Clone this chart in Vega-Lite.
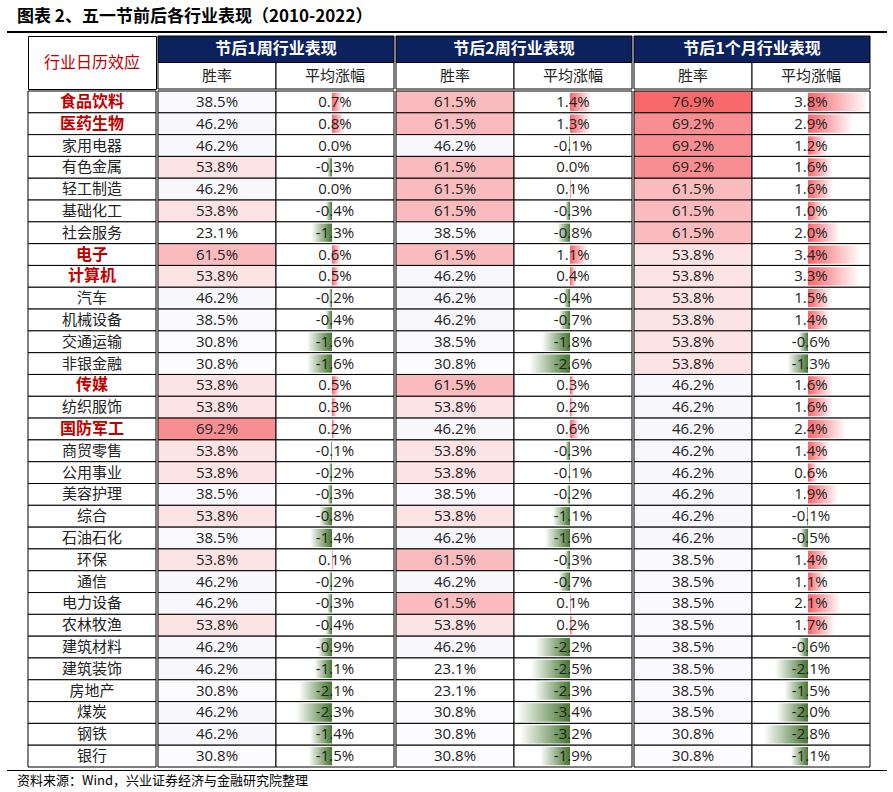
{
  "$schema": "https://vega.github.io/schema/vega-lite/v6.json",
  "padding": {"left": 7, "right": 0, "top": 8, "bottom": 0},
  "background": "#ffffff",
  "title": {"text": "图表 2、五一节前后各行业表现（2010-2022）", "anchor": "start", "frame": "bounds", "font": "Noto Sans CJK SC", "fontSize": 17, "fontWeight": "bold", "color": "#000000", "dx": 10, "offset": 5},
  "config": {"view": {"stroke": null}, "concat": {"spacing": 0}},
  "datasets": {
    "t": [
      {"n": "食品饮料", "e": 1, "w1": 38.5, "a1": 0.7, "w2": 61.5, "a2": 1.4, "wm": 76.9, "am": 3.8},
      {"n": "医药生物", "e": 1, "w1": 46.2, "a1": 0.8, "w2": 61.5, "a2": 1.3, "wm": 69.2, "am": 2.9},
      {"n": "家用电器", "e": 0, "w1": 46.2, "a1": 0.0, "w2": 46.2, "a2": -0.1, "wm": 69.2, "am": 1.2},
      {"n": "有色金属", "e": 0, "w1": 53.8, "a1": -0.3, "w2": 61.5, "a2": 0.0, "wm": 69.2, "am": 1.6},
      {"n": "轻工制造", "e": 0, "w1": 46.2, "a1": 0.0, "w2": 61.5, "a2": 0.1, "wm": 61.5, "am": 1.6},
      {"n": "基础化工", "e": 0, "w1": 53.8, "a1": -0.4, "w2": 61.5, "a2": -0.3, "wm": 61.5, "am": 1.0},
      {"n": "社会服务", "e": 0, "w1": 23.1, "a1": -1.3, "w2": 38.5, "a2": -0.8, "wm": 61.5, "am": 2.0},
      {"n": "电子", "e": 1, "w1": 61.5, "a1": 0.6, "w2": 61.5, "a2": 1.1, "wm": 53.8, "am": 3.4},
      {"n": "计算机", "e": 1, "w1": 53.8, "a1": 0.5, "w2": 46.2, "a2": 0.4, "wm": 53.8, "am": 3.3},
      {"n": "汽车", "e": 0, "w1": 46.2, "a1": -0.2, "w2": 46.2, "a2": -0.4, "wm": 53.8, "am": 1.5},
      {"n": "机械设备", "e": 0, "w1": 38.5, "a1": -0.4, "w2": 46.2, "a2": -0.7, "wm": 53.8, "am": 1.4},
      {"n": "交通运输", "e": 0, "w1": 30.8, "a1": -1.6, "w2": 38.5, "a2": -1.8, "wm": 53.8, "am": -0.6},
      {"n": "非银金融", "e": 0, "w1": 30.8, "a1": -1.6, "w2": 30.8, "a2": -2.6, "wm": 53.8, "am": -1.3},
      {"n": "传媒", "e": 1, "w1": 53.8, "a1": 0.5, "w2": 61.5, "a2": 0.3, "wm": 46.2, "am": 1.6},
      {"n": "纺织服饰", "e": 0, "w1": 53.8, "a1": 0.3, "w2": 53.8, "a2": 0.2, "wm": 46.2, "am": 1.6},
      {"n": "国防军工", "e": 1, "w1": 69.2, "a1": 0.2, "w2": 46.2, "a2": 0.6, "wm": 46.2, "am": 2.4},
      {"n": "商贸零售", "e": 0, "w1": 53.8, "a1": -0.1, "w2": 53.8, "a2": -0.3, "wm": 46.2, "am": 1.4},
      {"n": "公用事业", "e": 0, "w1": 53.8, "a1": -0.2, "w2": 53.8, "a2": -0.1, "wm": 46.2, "am": 0.6},
      {"n": "美容护理", "e": 0, "w1": 38.5, "a1": -0.3, "w2": 38.5, "a2": -0.2, "wm": 46.2, "am": 1.9},
      {"n": "综合", "e": 0, "w1": 53.8, "a1": -0.8, "w2": 53.8, "a2": -1.1, "wm": 46.2, "am": -0.1},
      {"n": "石油石化", "e": 0, "w1": 38.5, "a1": -1.4, "w2": 46.2, "a2": -1.6, "wm": 46.2, "am": -0.5},
      {"n": "环保", "e": 0, "w1": 53.8, "a1": 0.1, "w2": 61.5, "a2": -0.3, "wm": 38.5, "am": 1.4},
      {"n": "通信", "e": 0, "w1": 46.2, "a1": -0.2, "w2": 46.2, "a2": -0.7, "wm": 38.5, "am": 1.1},
      {"n": "电力设备", "e": 0, "w1": 46.2, "a1": -0.3, "w2": 61.5, "a2": 0.1, "wm": 38.5, "am": 2.1},
      {"n": "农林牧渔", "e": 0, "w1": 53.8, "a1": -0.4, "w2": 53.8, "a2": 0.2, "wm": 38.5, "am": 1.7},
      {"n": "建筑材料", "e": 0, "w1": 46.2, "a1": -0.9, "w2": 46.2, "a2": -2.2, "wm": 38.5, "am": -0.6},
      {"n": "建筑装饰", "e": 0, "w1": 46.2, "a1": -1.1, "w2": 23.1, "a2": -2.5, "wm": 38.5, "am": -2.1},
      {"n": "房地产", "e": 0, "w1": 30.8, "a1": -2.1, "w2": 23.1, "a2": -2.3, "wm": 38.5, "am": -1.5},
      {"n": "煤炭", "e": 0, "w1": 46.2, "a1": -2.3, "w2": 30.8, "a2": -3.4, "wm": 38.5, "am": -2.0},
      {"n": "钢铁", "e": 0, "w1": 46.2, "a1": -1.4, "w2": 30.8, "a2": -3.2, "wm": 30.8, "am": -2.8},
      {"n": "银行", "e": 0, "w1": 30.8, "a1": -1.5, "w2": 30.8, "a2": -1.9, "wm": 30.8, "am": -1.1}
    ]
  },
  "vconcat": [
    {"width": 880, "height": 2, "view": {"fill": "#000000", "stroke": null}, "data": {"values": [{}]}, "mark": {"type": "point", "size": 0, "strokeWidth": 0}, "encoding": {}},
    {
      "spacing": 0,
      "vconcat": [
        {
          "spacing": 0,
          "hconcat": [
            {"width": 20, "height": 53, "data": {"values": [{}]}, "mark": {"type": "point", "size": 0, "strokeWidth": 0}, "encoding": {}},
            {"width": 128, "height": 53, "view": {"fill": "#ffffff", "stroke": "#000000", "strokeWidth": 1}, "data": {"values": [{"c": "行业日历效应"}]}, "mark": {"type": "text", "font": "Noto Sans CJK SC", "fontSize": 16, "color": "#C00000"}, "encoding": {"text": {"field": "c"}}},
            {
              "width": 236, "height": 53,
              "data": {"values": [{"lv": "top", "c": "节后1周行业表现"}, {"lv": "sub", "c": "胜率"}, {"lv": "sub", "c": "平均涨幅"}]},
              "encoding": {"y": {"field": "lv", "type": "nominal", "sort": ["top", "sub"], "axis": null, "scale": {"paddingInner": 0, "paddingOuter": 0}}},
              "layer": [
                {"transform": [{"filter": "datum.lv == 'top'"}], "mark": {"type": "rect", "fill": "#0C225F", "stroke": "#000000", "strokeWidth": 1}, "encoding": {"x": {"field": "c", "type": "nominal", "axis": null, "scale": {"paddingInner": 0, "paddingOuter": 0}}}},
                {"transform": [{"filter": "datum.lv == 'top'"}], "mark": {"type": "text", "font": "Noto Sans CJK SC", "fontSize": 16, "fontWeight": "bold", "color": "#ffffff"}, "encoding": {"x": {"field": "c", "type": "nominal", "axis": null, "scale": {"paddingInner": 0, "paddingOuter": 0}}, "text": {"field": "c"}}},
                {"transform": [{"filter": "datum.lv == 'sub'"}], "mark": {"type": "rect", "fill": "#ffffff", "stroke": "#000000", "strokeWidth": 1}, "encoding": {"x": {"field": "c", "type": "nominal", "sort": null, "axis": null, "scale": {"paddingInner": 0, "paddingOuter": 0}}}},
                {"transform": [{"filter": "datum.lv == 'sub'"}], "mark": {"type": "text", "font": "Noto Sans CJK SC", "fontSize": 15, "color": "#222222"}, "encoding": {"x": {"field": "c", "type": "nominal", "sort": null, "axis": null, "scale": {"paddingInner": 0, "paddingOuter": 0}}, "text": {"field": "c"}}}
              ],
              "resolve": {"scale": {"x": "independent"}}
            },
            {
              "width": 236, "height": 53,
              "data": {"values": [{"lv": "top", "c": "节后2周行业表现"}, {"lv": "sub", "c": "胜率"}, {"lv": "sub", "c": "平均涨幅"}]},
              "encoding": {"y": {"field": "lv", "type": "nominal", "sort": ["top", "sub"], "axis": null, "scale": {"paddingInner": 0, "paddingOuter": 0}}},
              "layer": [
                {"transform": [{"filter": "datum.lv == 'top'"}], "mark": {"type": "rect", "fill": "#0C225F", "stroke": "#000000", "strokeWidth": 1}, "encoding": {"x": {"field": "c", "type": "nominal", "axis": null, "scale": {"paddingInner": 0, "paddingOuter": 0}}}},
                {"transform": [{"filter": "datum.lv == 'top'"}], "mark": {"type": "text", "font": "Noto Sans CJK SC", "fontSize": 16, "fontWeight": "bold", "color": "#ffffff"}, "encoding": {"x": {"field": "c", "type": "nominal", "axis": null, "scale": {"paddingInner": 0, "paddingOuter": 0}}, "text": {"field": "c"}}},
                {"transform": [{"filter": "datum.lv == 'sub'"}], "mark": {"type": "rect", "fill": "#ffffff", "stroke": "#000000", "strokeWidth": 1}, "encoding": {"x": {"field": "c", "type": "nominal", "sort": null, "axis": null, "scale": {"paddingInner": 0, "paddingOuter": 0}}}},
                {"transform": [{"filter": "datum.lv == 'sub'"}], "mark": {"type": "text", "font": "Noto Sans CJK SC", "fontSize": 15, "color": "#222222"}, "encoding": {"x": {"field": "c", "type": "nominal", "sort": null, "axis": null, "scale": {"paddingInner": 0, "paddingOuter": 0}}, "text": {"field": "c"}}}
              ],
              "resolve": {"scale": {"x": "independent"}}
            },
            {
              "width": 236, "height": 53,
              "data": {"values": [{"lv": "top", "c": "节后1个月行业表现"}, {"lv": "sub", "c": "胜率"}, {"lv": "sub", "c": "平均涨幅"}]},
              "encoding": {"y": {"field": "lv", "type": "nominal", "sort": ["top", "sub"], "axis": null, "scale": {"paddingInner": 0, "paddingOuter": 0}}},
              "layer": [
                {"transform": [{"filter": "datum.lv == 'top'"}], "mark": {"type": "rect", "fill": "#0C225F", "stroke": "#000000", "strokeWidth": 1}, "encoding": {"x": {"field": "c", "type": "nominal", "axis": null, "scale": {"paddingInner": 0, "paddingOuter": 0}}}},
                {"transform": [{"filter": "datum.lv == 'top'"}], "mark": {"type": "text", "font": "Noto Sans CJK SC", "fontSize": 16, "fontWeight": "bold", "color": "#ffffff"}, "encoding": {"x": {"field": "c", "type": "nominal", "axis": null, "scale": {"paddingInner": 0, "paddingOuter": 0}}, "text": {"field": "c"}}},
                {"transform": [{"filter": "datum.lv == 'sub'"}], "mark": {"type": "rect", "fill": "#ffffff", "stroke": "#000000", "strokeWidth": 1}, "encoding": {"x": {"field": "c", "type": "nominal", "sort": null, "axis": null, "scale": {"paddingInner": 0, "paddingOuter": 0}}}},
                {"transform": [{"filter": "datum.lv == 'sub'"}], "mark": {"type": "text", "font": "Noto Sans CJK SC", "fontSize": 15, "color": "#222222"}, "encoding": {"x": {"field": "c", "type": "nominal", "sort": null, "axis": null, "scale": {"paddingInner": 0, "paddingOuter": 0}}, "text": {"field": "c"}}}
              ],
              "resolve": {"scale": {"x": "independent"}}
            }
          ]
        },
        {
          "spacing": 0,
          "hconcat": [
            {"width": 20, "height": 676, "data": {"values": [{}]}, "mark": {"type": "point", "size": 0, "strokeWidth": 0}, "encoding": {}},
            {
              "width": 128, "height": 676,
              "data": {"name": "t"},
              "encoding": {"y": {"field": "n", "type": "nominal", "sort": null, "axis": null, "scale": {"paddingInner": 0, "paddingOuter": 0}}},
              "layer": [
                {"mark": {"type": "rect", "fill": "#ffffff", "stroke": "#000000", "strokeWidth": 1}, "encoding": {"x": {"datum": "行业", "type": "nominal", "axis": null, "scale": {"domain": ["行业"], "paddingInner": 0, "paddingOuter": 0}}}},
                {"transform": [{"filter": "datum.e == 0"}], "mark": {"type": "text", "font": "Noto Sans CJK SC", "fontSize": 15, "color": "#222222"}, "encoding": {"text": {"field": "n"}}},
                {"transform": [{"filter": "datum.e == 1"}], "mark": {"type": "text", "font": "Noto Sans CJK SC", "fontSize": 16, "fontWeight": "bold", "color": "#C00000"}, "encoding": {"text": {"field": "n"}}}
              ]
            },
            {
              "width": 236, "height": 676,
              "data": {"name": "t"},
              "transform": [
                {"calculate": "format(datum.w1,'.1f')+'%'", "as": "lw"},
                {"calculate": "replace(format(datum.a1,'.1f'),'\u2212','-')+'%'", "as": "la"}
              ],
              "encoding": {"y": {"field": "n", "type": "nominal", "sort": null, "axis": null, "scale": {"paddingInner": 0, "paddingOuter": 0}}},
              "layer": [
                {"mark": {"type": "rect", "stroke": "#000000", "strokeWidth": 1}, "encoding": {"x": {"datum": "胜率", "type": "nominal", "axis": null, "scale": {"domain": ["胜率", "平均涨幅"], "paddingInner": 0, "paddingOuter": 0}}, "fill": {"field": "w1", "type": "quantitative", "legend": null, "scale": {"domain": [23.1, 46.2, 53.8, 61.5, 69.2, 76.9], "range": ["#FFFFFF", "#F8F8FC", "#FCE3E4", "#F9BBBD", "#F88E91", "#F8696B"]}}}},
                {"mark": {"type": "rect", "stroke": "#000000", "strokeWidth": 1, "fill": "#ffffff"}, "encoding": {"x": {"datum": "平均涨幅", "type": "nominal", "axis": null, "scale": {"domain": ["胜率", "平均涨幅"], "paddingInner": 0, "paddingOuter": 0}}}},
                {"transform": [{"filter": "datum.a1 > 0"}], "mark": {"type": "bar", "height": {"band": 0.84}, "fill": {"gradient": "linear", "x1": 0, "x2": 1, "y1": 0, "y2": 0, "stops": [{"offset": 0, "color": "#F6646A"}, {"offset": 1, "color": "#FFFFFF"}]}}, "encoding": {"x": {"field": "a1", "type": "quantitative", "axis": null, "scale": {"domain": [-11.08, 3.95], "nice": false, "zero": false}}, "x2": {"datum": 0}}},
                {"transform": [{"filter": "datum.a1 < 0"}], "mark": {"type": "bar", "height": {"band": 0.84}, "fill": {"gradient": "linear", "x1": 0, "x2": 1, "y1": 0, "y2": 0, "stops": [{"offset": 0, "color": "#FFFFFF"}, {"offset": 1, "color": "#457530"}]}}, "encoding": {"x": {"field": "a1", "type": "quantitative", "axis": null, "scale": {"domain": [-11.08, 3.95], "nice": false, "zero": false}}, "x2": {"datum": 0}}},
                {"mark": {"type": "text", "font": "Open Sans", "fontSize": 15, "color": "#222222"}, "encoding": {"x": {"datum": "胜率", "type": "nominal", "axis": null, "scale": {"domain": ["胜率", "平均涨幅"], "paddingInner": 0, "paddingOuter": 0}}, "text": {"field": "lw"}}},
                {"mark": {"type": "text", "font": "Open Sans", "fontSize": 15, "color": "#222222"}, "encoding": {"x": {"datum": "平均涨幅", "type": "nominal", "axis": null, "scale": {"domain": ["胜率", "平均涨幅"], "paddingInner": 0, "paddingOuter": 0}}, "text": {"field": "la"}}}
              ],
              "resolve": {"scale": {"x": "independent"}}
            },
            {
              "width": 236, "height": 676,
              "data": {"name": "t"},
              "transform": [
                {"calculate": "format(datum.w2,'.1f')+'%'", "as": "lw"},
                {"calculate": "replace(format(datum.a2,'.1f'),'\u2212','-')+'%'", "as": "la"}
              ],
              "encoding": {"y": {"field": "n", "type": "nominal", "sort": null, "axis": null, "scale": {"paddingInner": 0, "paddingOuter": 0}}},
              "layer": [
                {"mark": {"type": "rect", "stroke": "#000000", "strokeWidth": 1}, "encoding": {"x": {"datum": "胜率", "type": "nominal", "axis": null, "scale": {"domain": ["胜率", "平均涨幅"], "paddingInner": 0, "paddingOuter": 0}}, "fill": {"field": "w2", "type": "quantitative", "legend": null, "scale": {"domain": [23.1, 46.2, 53.8, 61.5, 69.2, 76.9], "range": ["#FFFFFF", "#F8F8FC", "#FCE3E4", "#F9BBBD", "#F88E91", "#F8696B"]}}}},
                {"mark": {"type": "rect", "stroke": "#000000", "strokeWidth": 1, "fill": "#ffffff"}, "encoding": {"x": {"datum": "平均涨幅", "type": "nominal", "axis": null, "scale": {"domain": ["胜率", "平均涨幅"], "paddingInner": 0, "paddingOuter": 0}}}},
                {"transform": [{"filter": "datum.a2 > 0"}], "mark": {"type": "bar", "height": {"band": 0.84}, "fill": {"gradient": "linear", "x1": 0, "x2": 1, "y1": 0, "y2": 0, "stops": [{"offset": 0, "color": "#F6646A"}, {"offset": 1, "color": "#FFFFFF"}]}}, "encoding": {"x": {"field": "a2", "type": "quantitative", "axis": null, "scale": {"domain": [-11.08, 3.95], "nice": false, "zero": false}}, "x2": {"datum": 0}}},
                {"transform": [{"filter": "datum.a2 < 0"}], "mark": {"type": "bar", "height": {"band": 0.84}, "fill": {"gradient": "linear", "x1": 0, "x2": 1, "y1": 0, "y2": 0, "stops": [{"offset": 0, "color": "#FFFFFF"}, {"offset": 1, "color": "#457530"}]}}, "encoding": {"x": {"field": "a2", "type": "quantitative", "axis": null, "scale": {"domain": [-11.08, 3.95], "nice": false, "zero": false}}, "x2": {"datum": 0}}},
                {"mark": {"type": "rule", "color": "#222222", "strokeDash": [2, 2], "strokeWidth": 1}, "encoding": {"x": {"datum": 0, "type": "quantitative", "axis": null, "scale": {"domain": [-11.08, 3.95], "nice": false, "zero": false}}}},
                {"mark": {"type": "text", "font": "Open Sans", "fontSize": 15, "color": "#222222"}, "encoding": {"x": {"datum": "胜率", "type": "nominal", "axis": null, "scale": {"domain": ["胜率", "平均涨幅"], "paddingInner": 0, "paddingOuter": 0}}, "text": {"field": "lw"}}},
                {"mark": {"type": "text", "font": "Open Sans", "fontSize": 15, "color": "#222222"}, "encoding": {"x": {"datum": "平均涨幅", "type": "nominal", "axis": null, "scale": {"domain": ["胜率", "平均涨幅"], "paddingInner": 0, "paddingOuter": 0}}, "text": {"field": "la"}}}
              ],
              "resolve": {"scale": {"x": "independent"}}
            },
            {
              "width": 236, "height": 676,
              "data": {"name": "t"},
              "transform": [
                {"calculate": "format(datum.wm,'.1f')+'%'", "as": "lw"},
                {"calculate": "replace(format(datum.am,'.1f'),'\u2212','-')+'%'", "as": "la"}
              ],
              "encoding": {"y": {"field": "n", "type": "nominal", "sort": null, "axis": null, "scale": {"paddingInner": 0, "paddingOuter": 0}}},
              "layer": [
                {"mark": {"type": "rect", "stroke": "#000000", "strokeWidth": 1}, "encoding": {"x": {"datum": "胜率", "type": "nominal", "axis": null, "scale": {"domain": ["胜率", "平均涨幅"], "paddingInner": 0, "paddingOuter": 0}}, "fill": {"field": "wm", "type": "quantitative", "legend": null, "scale": {"domain": [23.1, 46.2, 53.8, 61.5, 69.2, 76.9], "range": ["#FFFFFF", "#F8F8FC", "#FCE3E4", "#F9BBBD", "#F88E91", "#F8696B"]}}}},
                {"mark": {"type": "rect", "stroke": "#000000", "strokeWidth": 1, "fill": "#ffffff"}, "encoding": {"x": {"datum": "平均涨幅", "type": "nominal", "axis": null, "scale": {"domain": ["胜率", "平均涨幅"], "paddingInner": 0, "paddingOuter": 0}}}},
                {"transform": [{"filter": "datum.am > 0"}], "mark": {"type": "bar", "height": {"band": 0.84}, "fill": {"gradient": "linear", "x1": 0, "x2": 1, "y1": 0, "y2": 0, "stops": [{"offset": 0, "color": "#F6646A"}, {"offset": 1, "color": "#FFFFFF"}]}}, "encoding": {"x": {"field": "am", "type": "quantitative", "axis": null, "scale": {"domain": [-11.08, 3.95], "nice": false, "zero": false}}, "x2": {"datum": 0}}},
                {"transform": [{"filter": "datum.am < 0"}], "mark": {"type": "bar", "height": {"band": 0.84}, "fill": {"gradient": "linear", "x1": 0, "x2": 1, "y1": 0, "y2": 0, "stops": [{"offset": 0, "color": "#FFFFFF"}, {"offset": 1, "color": "#457530"}]}}, "encoding": {"x": {"field": "am", "type": "quantitative", "axis": null, "scale": {"domain": [-11.08, 3.95], "nice": false, "zero": false}}, "x2": {"datum": 0}}},
                {"mark": {"type": "rule", "color": "#222222", "strokeDash": [2, 2], "strokeWidth": 1}, "encoding": {"x": {"datum": 0, "type": "quantitative", "axis": null, "scale": {"domain": [-11.08, 3.95], "nice": false, "zero": false}}}},
                {"mark": {"type": "text", "font": "Open Sans", "fontSize": 15, "color": "#222222"}, "encoding": {"x": {"datum": "胜率", "type": "nominal", "axis": null, "scale": {"domain": ["胜率", "平均涨幅"], "paddingInner": 0, "paddingOuter": 0}}, "text": {"field": "lw"}}},
                {"mark": {"type": "text", "font": "Open Sans", "fontSize": 15, "color": "#222222"}, "encoding": {"x": {"datum": "平均涨幅", "type": "nominal", "axis": null, "scale": {"domain": ["胜率", "平均涨幅"], "paddingInner": 0, "paddingOuter": 0}}, "text": {"field": "la"}}}
              ],
              "resolve": {"scale": {"x": "independent"}}
            }
          ]
        }
      ]
    },
    {"width": 880, "height": 1, "view": {"fill": "#000000", "stroke": null}, "data": {"values": [{}]}, "mark": {"type": "point", "size": 0, "strokeWidth": 0}, "encoding": {},
     "title": {"text": "资料来源：Wind，兴业证券经济与金融研究院整理", "orient": "bottom", "anchor": "start", "font": "Noto Sans CJK SC", "fontSize": 13, "fontWeight": "normal", "color": "#000000", "dx": 10, "offset": 4}}
  ],
  "spacing": 2
}
